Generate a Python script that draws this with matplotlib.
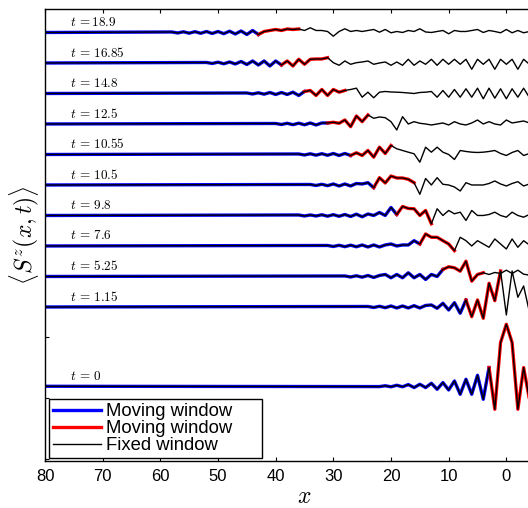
import numpy as np
import matplotlib
matplotlib.use('Agg')
import matplotlib.pyplot as plt

plt.rcParams['font.family'] = ['Liberation Sans', 'DejaVu Sans']
plt.rcParams['mathtext.fontset'] = 'cm'

# snapshot times, top to bottom
times = ['18.9', '16.85', '14.8', '12.5', '10.55', '10.5', '9.8', '7.6', '5.25', '1.15', '0']
offsets = [14, 13, 12, 11, 10, 9, 8, 7, 6, 5, 2.4]

# <S^z> deviation (pixel-ish units, up = positive),
# one value per lattice site starting at first_site and going down to x=-5
first_site = [58, 52, 45, 40, 36, 34, 36, 31, 28, 24, 22]

sz_18_9 = [0.5, -0.5, 0.7, -0.7, 0.8, -0.8, 1, -1, 1, -1.2, 1.3, -1.5, 1.5, -2, 2, -2,
           1, 2, 3, 2, 3.5, 3, 3.5, 2, 4.7, 2, 2, 1, -3.7, 1, 3.7, 1, 2, 1, 2, 3, 0.3,
           3, -0.3, 1, 0, 2, 1, 3.7, 0.5, 0, 1, 2, -1.3, 2, 1, 1, 2, 3, 0, 2, 1, -0.3,
           3, -0.3, 2, -0.3, 1, 0]
sz_16_85 = [0.5, -0.5, 0.8, -0.8, 1, -1, 1.5, -1.5, 2, -2, 2, -3, 2, -2, 2, -3, 3.7,
            -1.3, 3.7, 4, 4, 5.3, 0.3, -2.3, 2, -1.3, 0.3, 1, 2, -1.3, 0, 1, -2.3, 1,
            -2.3, 3.7, -2.3, 2, -1.3, 3.7, -2.3, 3.7, -1.3, 3.7, -1.3, 3.7, -6.3, 3.7,
            -1.3, 3.7, -6.3, 3.7, -1.3, 3.7, -6.3, 3.7, -1.3, 3]
sz_14_8 = [0.5, -0.5, 0.7, -0.7, 1, -1, 1, -1, 1.3, -2, 2, 3, -2, 4, -2, 4, 1.3, 3, 4,
           5.3, -3.7, 1.3, -4.3, 1.3, 2, 1.5, 1.3, 1, 0.5, 0, 1, 1.3, 2, -3.7, 3, -3.7,
           4, -3.7, 4.7, -3.7, 5.3, -5.3, 5.3, -4.7, 4.7, -5.3, 4.7, -3.7, 5.3, -4, 4]
sz_12_5 = [0.5, -0.5, 0.7, -0.7, 0.8, -0.8, 1, -1, 1, 1, 1.7, 0.7, 4, -2.7, 8, 2.3, 9,
           5.7, 7, 6.3, 2.3, -6, 7.3, 0, 2.3, 0.7, 0, -1, 0, 1, -1, 2.3, 0, -1, 1, 4, 0,
           2.3, 0, -1, 4, 1, 2, 3, 1, 2]
sz_10_55 = [0.5, -0.5, 0.7, -0.7, 0.8, -0.8, 1, -1, 1, -1, 1.7, -1, 4, -2.7, 7.3, 1, 9,
            5.7, 4, 2.3, 0.7, -7.7, 7.3, 2.3, 7.3, 2.3, 0, -5, 4, 3, 2.3, 2, 2.3, 3, 4,
            1, -1, 2, 4, -1, 1, 2]
sz_10_5 = [0.5, -0.5, 0.7, -0.7, 1, -1, 1, -1, 1.5, 1, 2.3, -2.7, 7.3, 2, 9, 7, 7, 5.7,
           2.3, -9.3, 6.5, 0, 7.3, 0.7, 0, -2, -6, 2.3, 0, 0, 0, 1.5, 4, 1, -1, 1.5,
           3.3, -1, 1, 1]
sz_9_8 = [0.5, -0.5, 0.5, -0.5, 0.7, -0.7, 0.8, -0.8, 1, -1, 1.3, -1.3, 1.5, 0, 3, 0,
          8, 1, 9, 7, 6.7, 0, 5, -8.3, 6.7, 0, 5, 1.7, 3.3, -5, 5, 0, 0, 1, 3.3, 0,
          -1.7, 3.3, 0, -1.7, 1, 0]
sz_7_6 = [0.5, -0.5, 0.7, -0.7, 0.8, -0.8, 1, -1, 1, -1, 1, 2, 0, 1, 1, 5.3, 2, 12,
          8.7, 8.7, 5.3, 2, -4.7, 8.7, 5.3, 0, 5.3, 2, -1.3, 7, 2, -3, 7, -1.3, 5.3, 1, 3]
sz_5_25 = [0.5, -0.5, 0.7, -0.7, 1, -1, 1, 2, -1.3, 2, -1.3, 3.7, -1.3, 2, -3, 2, 0, 7,
           9.7, 8.7, 5.3, 15.3, -4.7, 2, 3.7, 2, 4, 3, 6.3, 3, 6.3, 2.3, 1.3, 1]
sz_1_15 = [0.5, -0.5, 0.7, -0.7, 1, -1, 1, -1, 1.3, -1, 1.5, 2, -1.3, 3.7, -3, 4.3,
           -6.3, 7, -9.7, 7, -11.3, 23.7, 6.3, 36, -8, 36, 9.7, 21, -5, 8]
sz_0 = [-0.3, 0.5, -0.5, 1, -0.5, 1.7, -1.3, 2, -1.3, 3, -3, 3.7, -3.7, 5.3, -8, 7, -8,
        11, -13, 18.7, -23, 43.7, 62, 43.7, -23, 18.7, -13, 11]

profiles = [sz_18_9, sz_16_85, sz_14_8, sz_12_5, sz_10_55, sz_10_5, sz_9_8, sz_7_6,
            sz_5_25, sz_1_15, sz_0]

# moving window: blue up to blue_end, red from blue_end to red_end
blue_end = [43, 39, 35, 31, 27, 23, 19, 15, 11, 7, 3]
red_end = [36, 31, 28, 24, 20, 16, 13, 9, 4, 1, -5]

px_per_unit = 30.5

fig = plt.figure(figsize=(5.28, 5.08), dpi=100)
ax = fig.add_axes([45 / 528, 47 / 508, 519 / 528, 452 / 508])

for i, vals in enumerate(profiles):
    sites = np.arange(first_site[i], first_site[i] - len(vals), -1)
    x = np.concatenate([[80], sites])
    y = offsets[i] + np.concatenate([[0], vals]) / px_per_unit
    mb = x >= blue_end[i]
    mr = (x <= blue_end[i]) & (x >= red_end[i])
    ax.plot(x[mb], y[mb], color='#0000ff', lw=2.4, solid_joinstyle='round',
            label='Moving window     ' if i == 0 else None, zorder=2)
    ax.plot(x[mr], y[mr], color='#ff0000', lw=2.4, solid_joinstyle='round',
            label='Moving window' if i == 0 else None, zorder=2)
    ax.plot(x, y, color='black', lw=1.0, label='Fixed window' if i == 0 else None,
            zorder=3)
    if i == 0:
        lbl = r'$t\,{=}%s$' % times[i]
    else:
        lbl = r'$t\,=\,%s$' % times[i]
    ax.text(75.7, offsets[i] + 0.33, lbl, fontsize=9.5, ha='left', va='center')

ax.set_xlim(80, -10)
ax.set_ylim(-0.05, 14.77)
ax.set_xticks([80, 70, 60, 50, 40, 30, 20, 10, 0])
ax.set_yticks([0, 2, 4, 6, 8, 10, 12, 14])
ax.set_yticklabels([])
ax.tick_params(direction='in', top=True, right=True, length=3, width=0.8,
               labelsize=12, pad=6)
for sp in ax.spines.values():
    sp.set_linewidth(1.0)

ax.set_xlabel(r'$x$', fontsize=17, labelpad=1.5)
ax.set_ylabel(r'$\langle S^z(x,t)\rangle$', fontsize=17, labelpad=-3)

leg = ax.legend(loc='lower left', bbox_to_anchor=(0.008, 0.007), borderaxespad=0,
                fontsize=13.3, handlelength=2.6, handletextpad=0.3,
                labelspacing=0.0, borderpad=0.2, fancybox=False, framealpha=1)
leg.get_frame().set_edgecolor('black')
leg.get_frame().set_linewidth(1.0)

fig.savefig('out.png', dpi=100)
